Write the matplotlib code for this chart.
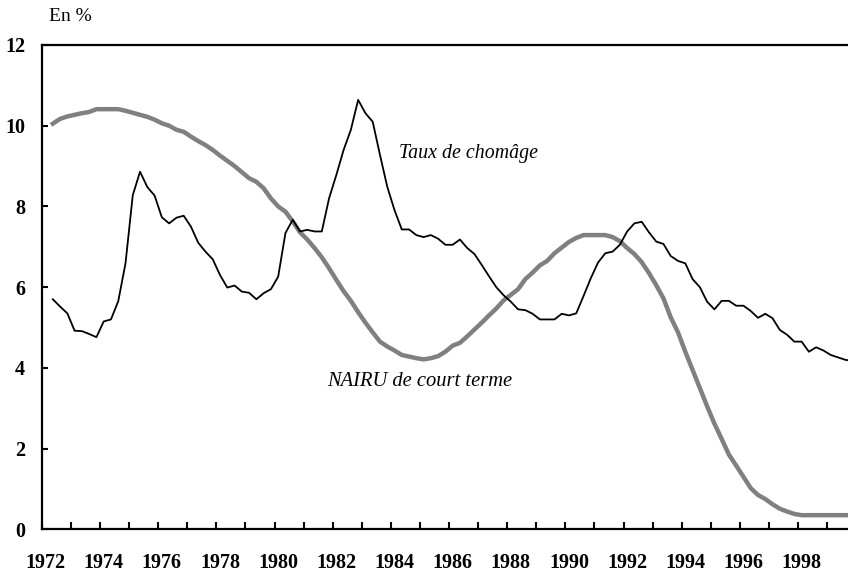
import matplotlib
matplotlib.use("Agg")
import matplotlib.pyplot as plt
import numpy as np

# Quarterly data, first point = 1972 Q2
start_year = 1972.25

taux_chomage = [
    5.70, 5.52, 5.35, 4.92, 4.91, 4.84, 4.76, 5.15, 5.20, 5.65,
    6.59, 8.28, 8.86, 8.48, 8.27, 7.73, 7.58, 7.72, 7.77, 7.50,
    7.10, 6.88, 6.69, 6.30, 5.99, 6.04, 5.89, 5.86, 5.70, 5.85,
    5.95, 6.26, 7.34, 7.67, 7.38, 7.42, 7.38, 7.38, 8.20, 8.78,
    9.40, 9.90, 10.64, 10.31, 10.10, 9.28, 8.49, 7.91, 7.43, 7.43,
    7.29, 7.24, 7.29, 7.20, 7.05, 7.05, 7.18, 6.97, 6.82, 6.55,
    6.27, 6.00, 5.80, 5.64, 5.45, 5.43, 5.34, 5.20, 5.20, 5.20,
    5.34, 5.30, 5.35, 5.78, 6.22, 6.61, 6.84, 6.88, 7.05, 7.38,
    7.58, 7.62, 7.36, 7.13, 7.07, 6.77, 6.65, 6.59, 6.20, 6.00,
    5.64, 5.45, 5.66, 5.66, 5.54, 5.54, 5.41, 5.24, 5.34, 5.23,
    4.94, 4.82, 4.65, 4.65, 4.40, 4.51, 4.43, 4.32, 4.26, 4.20,
    4.17,
]

nairu = [
    10.05, 10.17, 10.23, 10.27, 10.31, 10.34, 10.41, 10.41, 10.41, 10.41,
    10.37, 10.32, 10.27, 10.22, 10.15, 10.06, 10.00, 9.90, 9.85, 9.73,
    9.62, 9.52, 9.40, 9.26, 9.13, 9.00, 8.85, 8.70, 8.61, 8.45,
    8.20, 8.00, 7.87, 7.63, 7.36, 7.18, 6.97, 6.74, 6.47, 6.18,
    5.90, 5.66, 5.38, 5.12, 4.88, 4.65, 4.53, 4.43, 4.32, 4.28,
    4.24, 4.21, 4.24, 4.29, 4.40, 4.55, 4.62, 4.78, 4.95, 5.12,
    5.30, 5.47, 5.67, 5.81, 5.95, 6.20, 6.36, 6.54, 6.65, 6.84,
    6.98, 7.12, 7.22, 7.29, 7.29, 7.29, 7.29, 7.24, 7.14, 6.97,
    6.82, 6.62, 6.35, 6.05, 5.72, 5.25, 4.88, 4.40, 3.95, 3.50,
    3.05, 2.62, 2.24, 1.85, 1.58, 1.30, 1.02, 0.85, 0.75, 0.62,
    0.51, 0.44, 0.38, 0.35, 0.35, 0.35, 0.35, 0.35, 0.35, 0.35,
    0.35,
]

year_labels = list(range(1972, 1999, 2))
y_ticks = [0, 2, 4, 6, 8, 10, 12]

x_chom = start_year + np.arange(len(taux_chomage)) / 4.0
x_nairu = start_year + np.arange(len(nairu)) / 4.0

W, H = 848, 574
fig = plt.figure(figsize=(W / 100, H / 100), dpi=100)
left, right, top, bottom = 41.9, 848.0, 45.0, 529.3
ax = fig.add_axes([left / W, (H - bottom) / H, (right - left) / W, (bottom - top) / H])

ax.plot(x_nairu, nairu, color="#808080", lw=3.2, solid_joinstyle="round", zorder=2)
ax.plot(x_chom, taux_chomage, color="black", lw=1.3, zorder=3)

ax.set_xlim(1971.875, 1999.595)
ax.set_ylim(0, 12)

serif = ["Liberation Serif", "DejaVu Serif"]

# year-boundary ticks (inward), labels centered on first quarter of the year
ax.set_xticks([1971.875 + k for k in range(28)])
ax.set_xticklabels([])
ax.tick_params(axis="x", which="major", direction="in", length=5, width=1.5, color="black")
ax.set_xticks(year_labels, minor=True)
ax.set_xticklabels([str(y) for y in year_labels], minor=True,
                   fontfamily=serif, fontweight="bold", fontsize=14.5)
ax.tick_params(axis="x", which="minor", length=0, pad=17)

ax.set_yticks(y_ticks)
ax.set_yticklabels([str(v) for v in y_ticks], fontfamily=serif, fontweight="bold", fontsize=14.5)
ax.tick_params(axis="y", direction="in", length=4, width=1.5, pad=12)

for s in ["left", "bottom", "top"]:
    ax.spines[s].set_linewidth(1.6)
    ax.spines[s].set_color("black")
ax.spines["right"].set_visible(False)

fig.text(468 / W, 1 - 153.5 / H, "Taux de chomâge", ha="center", va="center",
         fontfamily=serif, style="italic", fontsize=14.3)
fig.text(420 / W, 1 - 381 / H, "NAIRU de court terme", ha="center", va="center",
         fontfamily=serif, style="italic", fontsize=14.8)
fig.text(49 / W, 1 - 16.5 / H, "En %", ha="left", va="center",
         fontfamily=serif, fontsize=14)

fig.savefig("out.png", dpi=100)
